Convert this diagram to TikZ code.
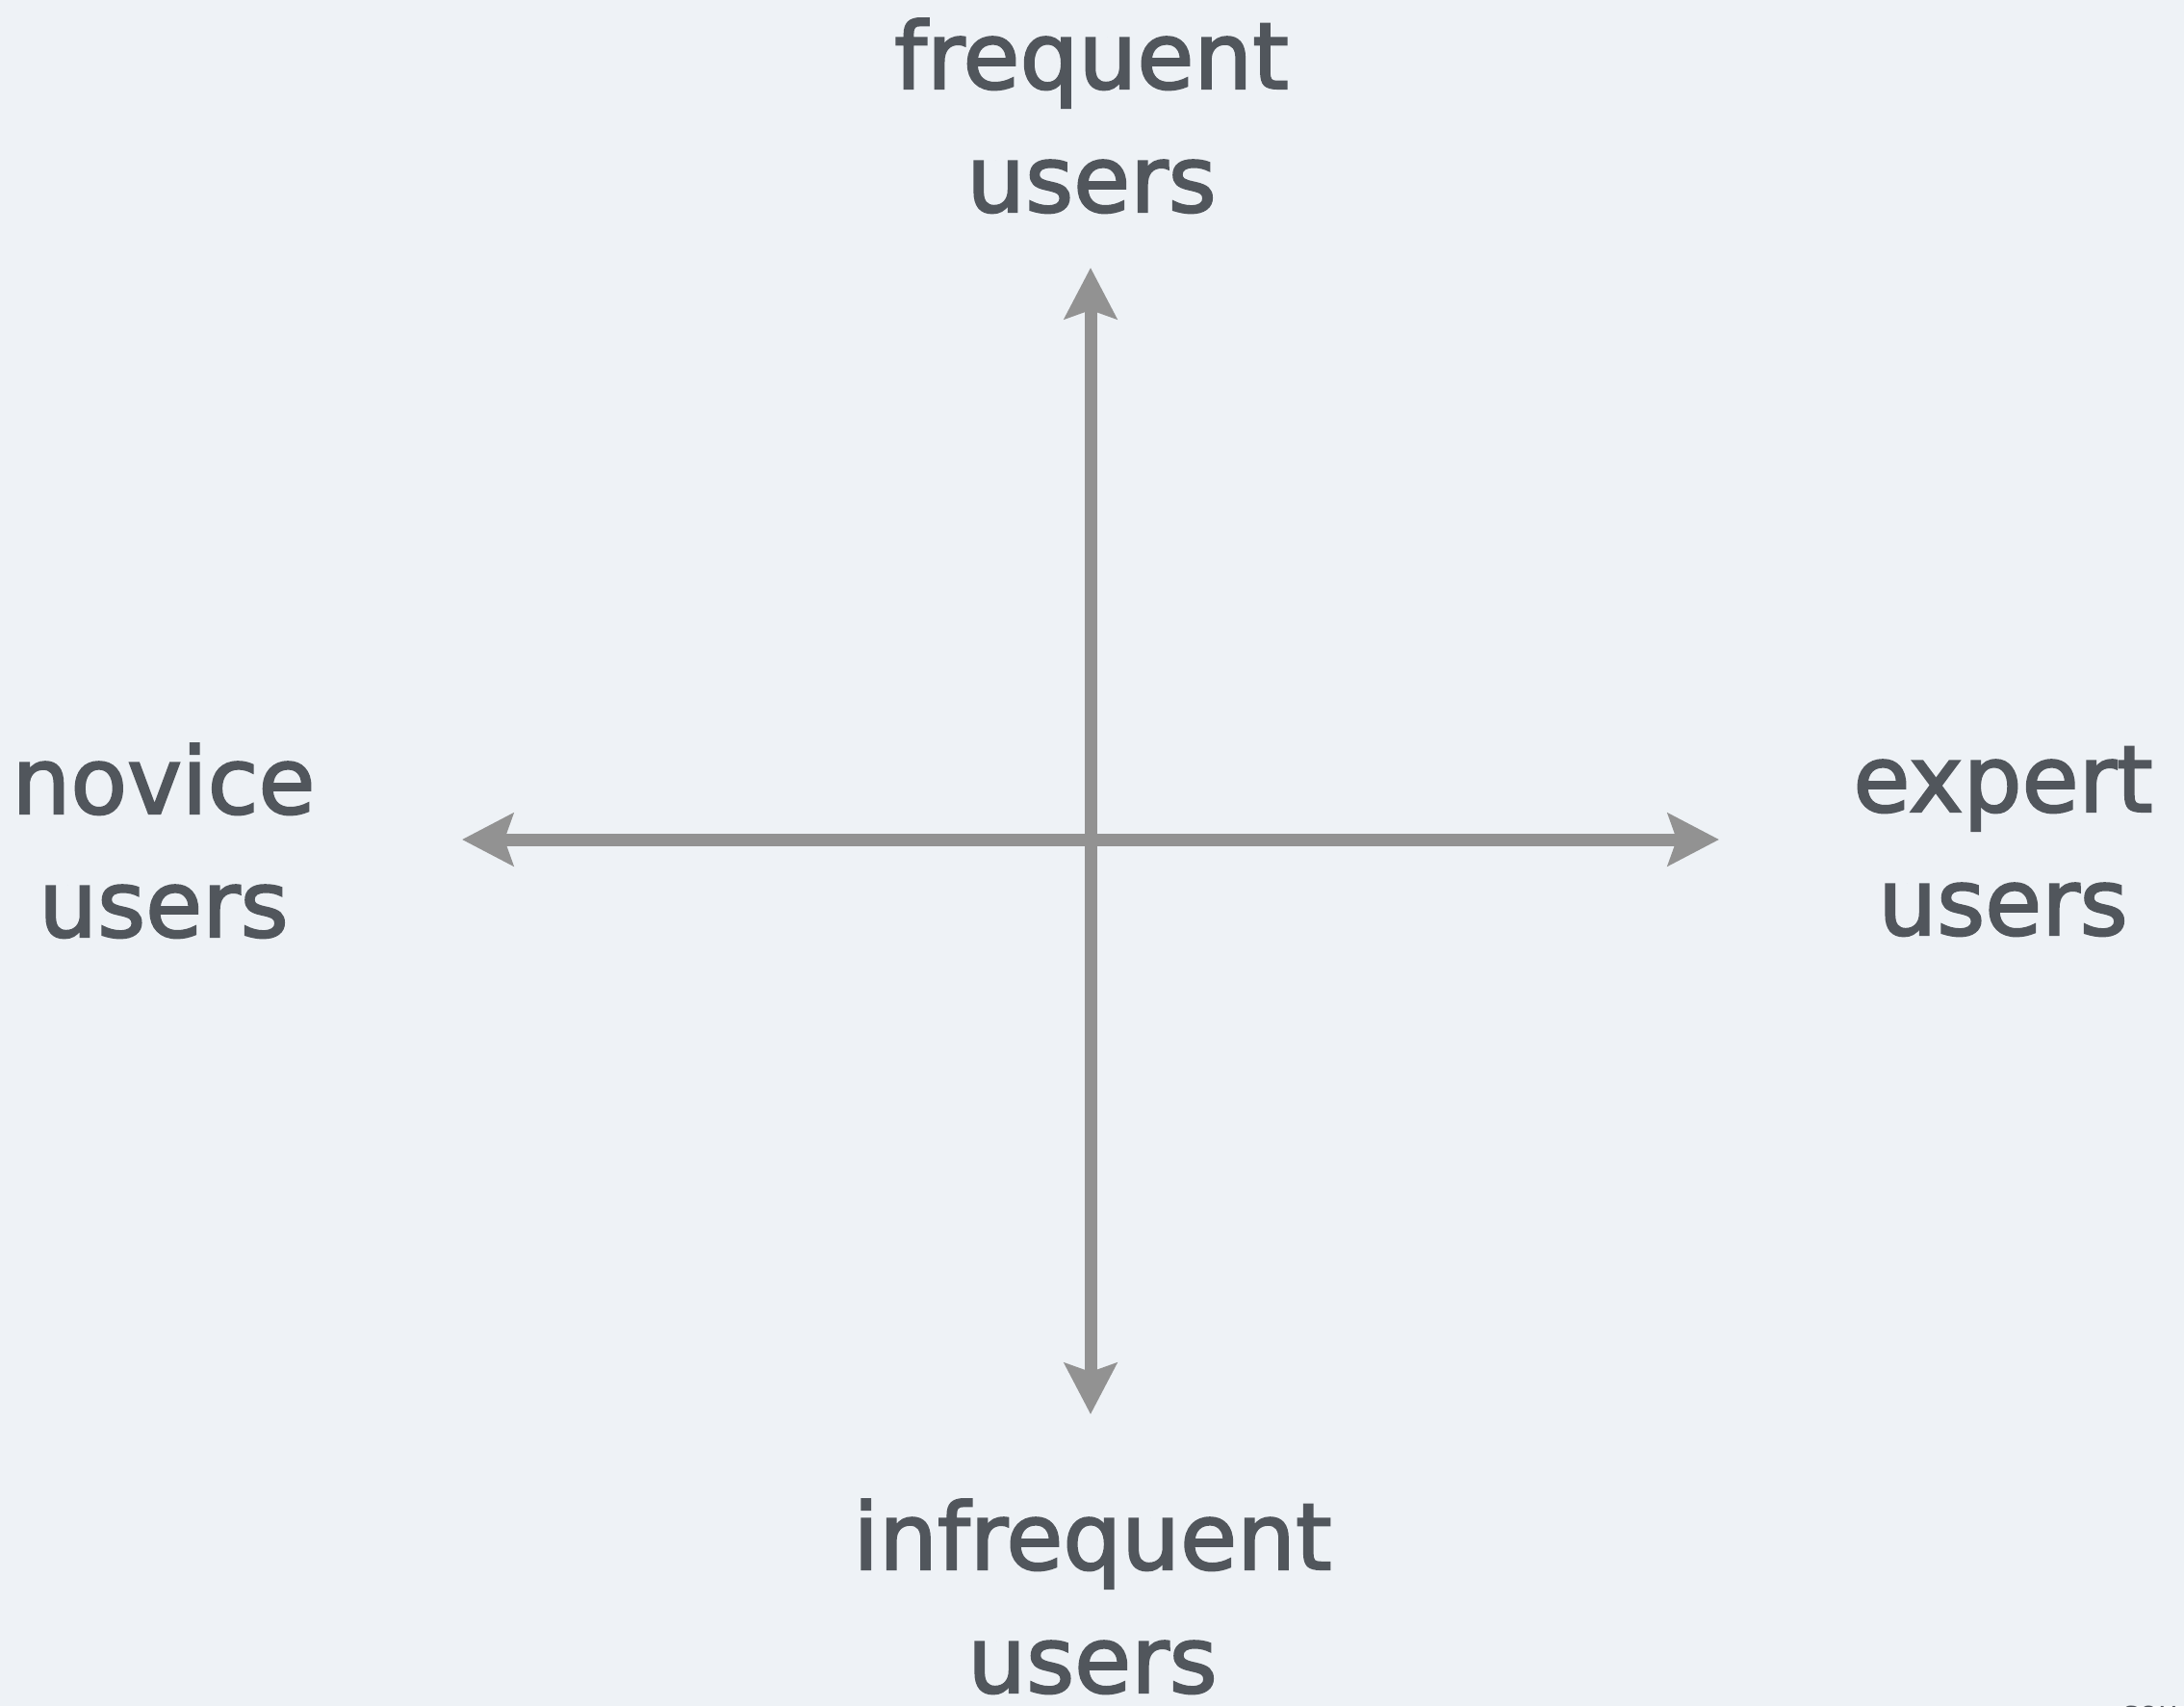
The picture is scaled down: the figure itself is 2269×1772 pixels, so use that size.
\documentclass[tikz,border=0pt]{standalone}
\usepackage{fontspec}
\setmainfont{DejaVu Sans}
\newfontfamily\labelfont{DejaVu Sans}[FakeBold=2.2]
\usetikzlibrary{arrows.meta}

\definecolor{bgcol}{HTML}{EEF2F6}
\definecolor{textcol}{HTML}{51565C}
\definecolor{axiscol}{HTML}{929292}

\tikzset{every picture/.style={line width=0.75pt}}
\tikzset{
  axis/.style={draw=axiscol, line width=3.9pt, {Stealth[length=15.9pt,width=16.2pt,inset=2.7pt]}-{Stealth[length=15.9pt,width=16.2pt,inset=2.7pt]}},
  label/.style={text=textcol, align=center, inner sep=0pt, anchor=base, font=\labelfont\fontsize{28.8}{38.4}\selectfont}
}

\begin{document}
\begin{tikzpicture}[x=0.3pt,y=0.3pt,yscale=-1,xscale=1]
%background, sets the diagram size
\fill[bgcol] (0,0) rectangle (2269,1772);
\useasboundingbox (0,0) rectangle (2269,1772);

%Axis ends
\coordinate (tipN) at (1133,278);
\coordinate (tipS) at (1133,1469);
\coordinate (tipW) at (480,872);
\coordinate (tipE) at (1786,872);

% Text Node (base is the last line)
\node[label] (frequent) at (1134,220) {frequent\\users};
% Text Node
\node[label] (infrequent) at (1135,1758) {infrequent\\users};
% Text Node
\node[label] (novice) at (170,973) {novice\\users};
% Text Node
\node[label] (expert) at (2081,971) {expert\\users};

%Double Arrow
\draw[axis] (tipW) -- (tipE);
%Double Arrow
\draw[axis] (tipN) -- (tipS);

%cut off text at the bottom edge
\begin{scope}
\clip (0,0) rectangle (2269,1772);
\node[text=textcol, inner sep=0pt, anchor=base west, font=\fontsize{9.9}{12}\selectfont] (source) at (2204,1790) {sou};
\end{scope}

\end{tikzpicture}
\end{document}
